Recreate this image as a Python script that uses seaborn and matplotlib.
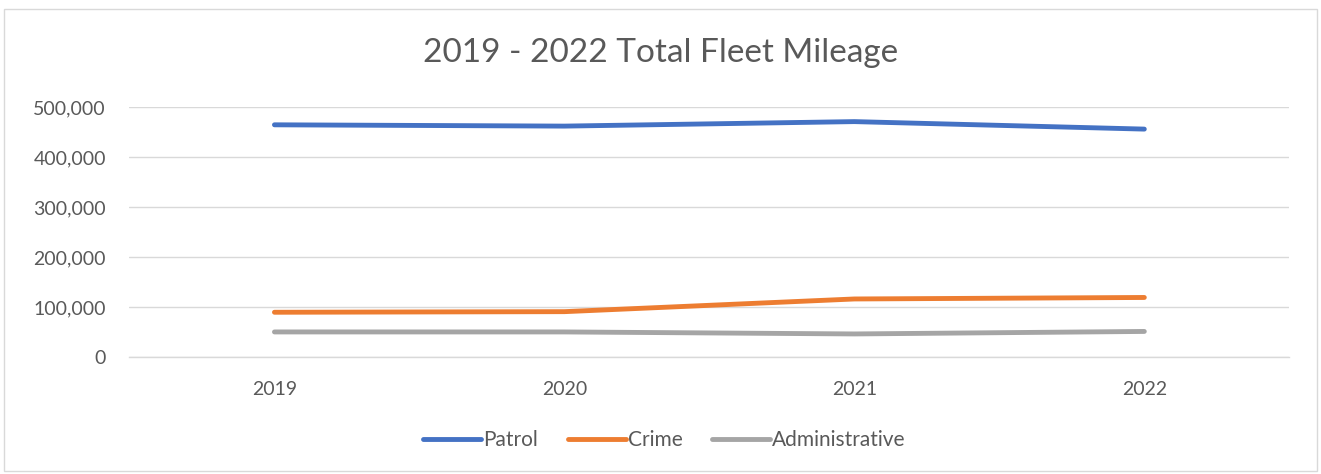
import matplotlib
matplotlib.use("Agg")
import matplotlib.pyplot as plt
import matplotlib.ticker as mticker
from matplotlib.patches import Rectangle
import pandas as pd
import seaborn as sns

years = ["2019", "2020", "2021", "2022"]
patrol = [464600, 462000, 471000, 456000]
crime = [89400, 90600, 116000, 119000]
administrative = [50000, 50000, 46000, 51000]
series_names = ["Patrol", "Crime", "Administrative"]
colors = ["#4472C4", "#ED7D31", "#A5A5A5"]

df = pd.DataFrame({
    "year": years * 3,
    "miles": patrol + crime + administrative,
    "series": [n for n in series_names for _ in years],
})

sns.set_theme(style="white")
plt.rcParams["font.family"] = ["Lato", "DejaVu Sans"]
text_color = "#595959"
grid_color = "#D9D9D9"

fig = plt.figure(figsize=(13.21, 4.74), dpi=100)
ax = fig.add_axes([0.098, 0.247, 0.878, 0.527])
sns.lineplot(data=df, x="year", y="miles", hue="series", palette=colors,
             linewidth=3.5, sort=False, ax=ax, solid_capstyle="round")

ax.set_xlim(-0.5, 3.5)
ax.set_ylim(0, 500000)
ax.yaxis.set_major_locator(mticker.MultipleLocator(100000))
ax.yaxis.set_major_formatter(mticker.FuncFormatter(lambda v, p: f"{int(v):,}"))
ax.yaxis.grid(True, color=grid_color, linewidth=1)
ax.set_axisbelow(True)
for side in ["left", "right", "top"]:
    ax.spines[side].set_visible(False)
ax.spines["bottom"].set_color(grid_color)
ax.spines["bottom"].set_linewidth(1)
ax.tick_params(axis="both", length=0, labelsize=14, labelcolor=text_color)
ax.tick_params(axis="x", pad=17)
ax.tick_params(axis="y", pad=17)
ax.set_xlabel("")
ax.set_ylabel("")

handles, labels = ax.get_legend_handles_labels()
ax.get_legend().remove()
fig.legend(handles, labels, loc="center", bbox_to_anchor=(0.503, 0.072), ncol=3,
           frameon=False, fontsize=15, labelcolor=text_color, handlelength=2.8,
           handletextpad=0.1, columnspacing=1.4)

fig.text(0.5, 0.888, "2019 - 2022 Total Fleet Mileage", ha="center", va="center",
         fontsize=24, color=text_color)

fig.patches.append(Rectangle((0.003, 0.006), 0.994, 0.976, transform=fig.transFigure,
                             fill=False, edgecolor=grid_color, linewidth=1))

fig.savefig("out.png", dpi=100, facecolor="white")
